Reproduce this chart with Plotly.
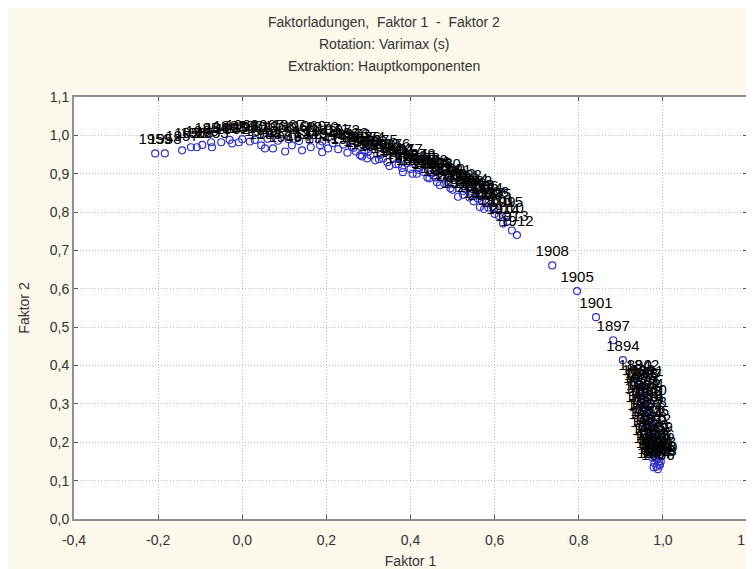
import plotly.graph_objects as go

# ---- data ----
# lower-right cluster
cluster_years = [1889, 1888, 1887, 1886, 1885, 1884, 1883, 1882, 1881, 1880,
                 1879, 1878, 1877, 1876, 1875, 1874, 1873, 1872, 1871, 1870,
                 1869, 1868, 1867, 1866, 1865, 1864, 1863, 1862, 1861, 1860,
                 1859, 1858, 1857, 1856,
                 1855, 1854, 1853, 1852, 1851, 1850, 1849, 1848, 1847, 1846,
                 1845, 1844, 1843, 1842, 1841, 1840]
cluster_f1 = [0.942, 0.950, 0.958, 0.945, 0.955, 0.962, 0.948, 0.958, 0.966, 0.950,
              0.962, 0.970, 0.955, 0.966, 0.975, 0.958, 0.970, 0.980, 0.962, 0.974,
              0.984, 0.966, 0.978, 0.988, 0.970, 0.982, 0.992, 0.975, 0.986, 0.995,
              0.980, 0.990, 0.985, 0.988,
              0.947, 0.952, 0.958, 0.960, 0.963, 0.968, 0.972, 0.976, 0.980, 0.984,
              0.990, 0.978, 0.993, 0.952, 0.962, 0.970]
cluster_f2 = [0.352, 0.345, 0.340, 0.330, 0.322, 0.315, 0.305, 0.298, 0.292, 0.282,
              0.275, 0.268, 0.260, 0.252, 0.246, 0.238, 0.230, 0.224, 0.215, 0.208,
              0.202, 0.194, 0.188, 0.182, 0.175, 0.170, 0.165, 0.160, 0.155, 0.150,
              0.146, 0.142, 0.136, 0.130,
              0.338, 0.312, 0.286, 0.262, 0.244, 0.222, 0.200, 0.182, 0.172, 0.158,
              0.150, 0.135, 0.140, 0.365, 0.350, 0.300]

# transition points
trans_years = [1890, 1894, 1897, 1901, 1905, 1908]
trans_f1 = [0.934, 0.905, 0.882, 0.841, 0.796, 0.737]
trans_f2 = [0.365, 0.414, 0.466, 0.526, 0.594, 0.661]

# upper arc
arc_years = list(range(1912, 2011))
arc_f1 = [0.653, 0.641, 0.620, 0.628, 0.600, 0.585, 0.565, 0.560, 0.540, 0.525,
          0.513, 0.495, 0.480, 0.463, 0.455, 0.440, 0.420, 0.405, 0.382, 0.372,
          0.350, 0.335, 0.316, 0.297, 0.290, 0.280, 0.260, 0.228, 0.204, 0.190,
          0.185, 0.163, 0.142, 0.118, 0.102, 0.073, 0.054, 0.045, 0.018, -0.008,
          -0.024, -0.072, -0.074, -0.108, -0.122, -0.143, -0.184, -0.207,
          -0.095, -0.050, -0.030, 0.000, 0.030, 0.060, 0.085, 0.110, 0.135, 0.160,
          0.190, 0.215, 0.240, 0.265, 0.300, 0.330, 0.360, 0.390, 0.420, 0.450,
          0.480, 0.505, 0.530, 0.555, 0.580, 0.600,
          0.250, 0.270, 0.285, 0.305, 0.325, 0.345, 0.365, 0.380, 0.400, 0.415,
          0.430, 0.445, 0.460, 0.470, 0.490, 0.500, 0.515, 0.525, 0.545, 0.550,
          0.570, 0.575, 0.595, 0.610, 0.630]
arc_f2 = [0.740, 0.752, 0.770, 0.790, 0.795, 0.812, 0.813, 0.835, 0.838, 0.855,
          0.840, 0.862, 0.875, 0.878, 0.895, 0.890, 0.910, 0.900, 0.904, 0.925,
          0.920, 0.940, 0.935, 0.940, 0.960, 0.948, 0.970, 0.964, 0.966, 0.956,
          0.974, 0.969, 0.961, 0.974, 0.958, 0.966, 0.966, 0.974, 0.984, 0.982,
          0.979, 0.969, 0.982, 0.969, 0.969, 0.961, 0.953, 0.953,
          0.975, 0.982, 0.988, 0.990, 0.988, 0.991, 0.986, 0.990, 0.985, 0.988,
          0.984, 0.980, 0.976, 0.968, 0.958, 0.950, 0.940, 0.928, 0.915, 0.900,
          0.888, 0.872, 0.860, 0.845, 0.825, 0.810,
          0.955, 0.958, 0.945, 0.948, 0.938, 0.930, 0.925, 0.915, 0.912, 0.900,
          0.905, 0.888, 0.890, 0.870, 0.875, 0.858, 0.862, 0.845, 0.850, 0.828,
          0.830, 0.808, 0.815, 0.790, 0.775]

x_ticks = [-0.4, -0.2, 0.0, 0.2, 0.4, 0.6, 0.8, 1.0, 1.2]
x_tick_text = ["-0,4", "-0,2", "0,0", "0,2", "0,4", "0,6", "0,8", "1,0", "1,2"]
y_ticks = [0.0, 0.1, 0.2, 0.3, 0.4, 0.5, 0.6, 0.7, 0.8, 0.9, 1.0, 1.1]
y_tick_text = ["0,0", "0,1", "0,2", "0,3", "0,4", "0,5", "0,6", "0,7", "0,8", "0,9", "1,0", "1,1"]
title_lines = ["Faktorladungen,  Faktor 1  -  Faktor 2",
               "Rotation: Varimax (s)",
               "Extraktion: Hauptkomponenten"]

labels = [str(v) for v in cluster_years + trans_years + arc_years]
f1 = cluster_f1 + trans_f1 + arc_f1
f2 = cluster_f2 + trans_f2 + arc_f2

CREAM = "#FCF8EB"
FONT = "Liberation Sans, Arial, sans-serif"
TXT = "#333333"

fig = go.Figure()
fig.add_trace(go.Scatter(
    x=f1, y=f2, text=labels, mode="markers+text",
    textposition="top center",
    textfont=dict(family=FONT, size=15, color="#000000"),
    marker=dict(symbol="circle-open", size=7, color="#3030CC",
                line=dict(width=1.2, color="#3030CC")),
    cliponaxis=False, showlegend=False, hoverinfo="skip"))

axis_common = dict(
    showgrid=True, gridcolor="#BDBDBD", griddash="1px,2px", gridwidth=1,
    zeroline=False, showline=True, linecolor="#909090", linewidth=2,
    mirror="ticks", ticks="inside", ticklen=4, tickcolor="#555555",
    tickfont=dict(family=FONT, size=14, color=TXT), automargin=False,
)

fig.update_layout(
    width=754, height=569,
    margin=dict(l=66, r=15, t=89, b=58),
    paper_bgcolor=CREAM, plot_bgcolor="white",
    xaxis=dict(range=[-0.4, 1.2], tickvals=x_ticks, ticktext=x_tick_text,
               ticklabelstandoff=7,
               title=dict(text="Faktor 1", font=dict(family=FONT, size=14, color=TXT),
                          standoff=9),
               **axis_common),
    yaxis=dict(range=[0.0, 1.1], tickvals=y_ticks, ticktext=y_tick_text,
               title=dict(text="Faktor 2", font=dict(family=FONT, size=14, color=TXT),
                          standoff=17),
               **axis_common),
)

title_y = [1.1777, 1.1256, 1.0735]
for txt, yy in zip(title_lines, title_y):
    fig.add_annotation(text=txt, xref="paper", yref="paper", x=(376 - 66) / 673, y=yy,
                       xanchor="center", yanchor="middle", showarrow=False,
                       font=dict(family=FONT, size=14, color=TXT))

fig.write_html("out.html")
